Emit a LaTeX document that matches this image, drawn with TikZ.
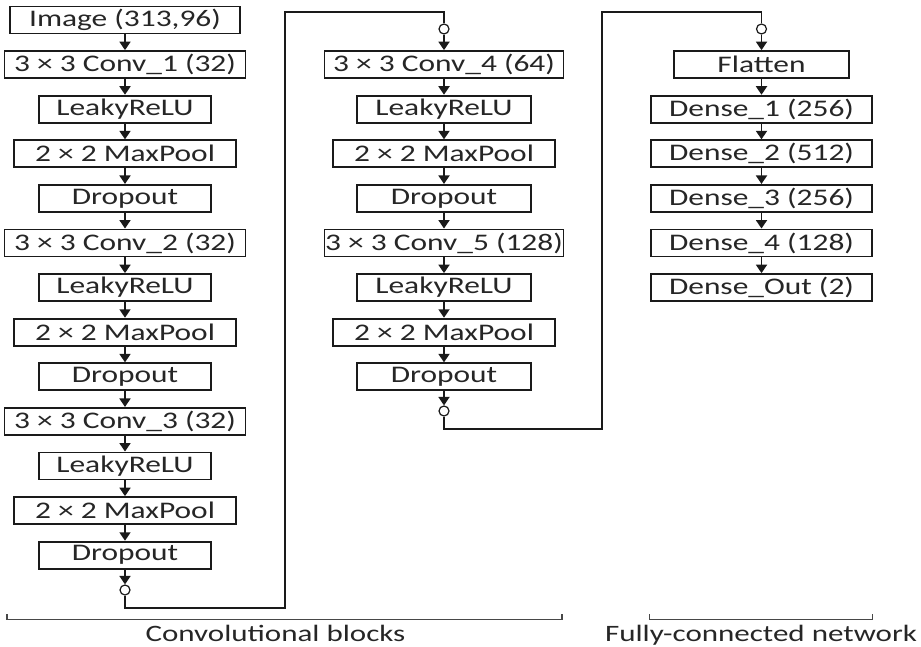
\documentclass[tikz,border=0pt]{standalone}
\usepackage{fontspec}
\usetikzlibrary{arrows.meta}
\newfontfamily\boxfont[FakeStretch=1.32]{Carlito}
\definecolor{linec}{HTML}{1A1A1A}
\definecolor{textc}{HTML}{262626}
\begin{document}
\begin{tikzpicture}[x=1pt,y=-1pt,
  blk/.style={draw=linec, line width=1.9pt, minimum height=27pt, inner sep=0pt, text=textc,
    font=\boxfont\fontsize{23.8pt}{25pt}\selectfont},
  circ/.style={circle, draw=linec, line width=1.2pt, minimum size=10pt, inner sep=0pt, fill=white},
  arr/.style={draw=linec, line width=1.8pt, -{Triangle[length=8.5pt,width=11pt]}},
  wire/.style={draw=linec, line width=1.8pt, line join=miter},
  brk/.style={draw=linec!80, line width=1.3pt},
  lbl/.style={text=textc, inner sep=0pt, anchor=base, font=\boxfont\fontsize{23.5pt}{25pt}\selectfont}]
\useasboundingbox (0,0) rectangle (921,647);
% column 1
\node[blk, minimum width=230pt] (img) at (125,20) {Image (313,96)};
\node[blk, minimum width=241pt] (c1) at (125,64.6) {3 × 3 Conv\_1 (32)};
\node[blk, minimum width=172pt] (r1) at (125,109.2) {LeakyReLU};
\node[blk, minimum width=222pt] (m1) at (125,153.8) {2 × 2 MaxPool};
\node[blk, minimum width=172pt] (d1) at (125,198.4) {Dropout};
\node[blk, minimum width=241pt] (c2) at (125,243) {3 × 3 Conv\_2 (32)};
\node[blk, minimum width=172pt] (r2) at (125,287.6) {LeakyReLU};
\node[blk, minimum width=222pt] (m2) at (125,332.2) {2 × 2 MaxPool};
\node[blk, minimum width=172pt] (d2) at (125,376.8) {Dropout};
\node[blk, minimum width=241pt] (c3) at (125,421.4) {3 × 3 Conv\_3 (32)};
\node[blk, minimum width=172pt] (r3) at (125,466) {LeakyReLU};
\node[blk, minimum width=222pt] (m3) at (125,510.6) {2 × 2 MaxPool};
\node[blk, minimum width=172pt] (d3) at (125,555.2) {Dropout};
\node[circ] (o1) at (125,590) {};
% column 2
\node[circ] (o2) at (444,29) {};
\node[blk, minimum width=239pt] (c4) at (444,64.6) {3 × 3 Conv\_4 (64)};
\node[blk, minimum width=174pt] (r4) at (444,109.2) {LeakyReLU};
\node[blk, minimum width=222pt] (m4) at (444,153.8) {2 × 2 MaxPool};
\node[blk, minimum width=174pt] (d4) at (444,198.4) {Dropout};
\node[blk, minimum width=239pt] (c5) at (444,243) {3 × 3 Conv\_5 (128)};
\node[blk, minimum width=174pt] (r5) at (444,287.6) {LeakyReLU};
\node[blk, minimum width=222pt] (m5) at (444,332.2) {2 × 2 MaxPool};
\node[blk, minimum width=174pt] (d5) at (444,376.8) {Dropout};
\node[circ] (o3) at (444,411) {};
% column 3
\node[circ] (o4) at (761.5,29) {};
\node[blk, minimum width=175pt] (fl) at (761.5,64.6) {Flatten};
\node[blk, minimum width=221pt] (e1) at (761.5,109.2) {Dense\_1 (256)};
\node[blk, minimum width=221pt] (e2) at (761.5,153.8) {Dense\_2 (512)};
\node[blk, minimum width=221pt] (e3) at (761.5,198.4) {Dense\_3 (256)};
\node[blk, minimum width=221pt] (e4) at (761.5,243) {Dense\_4 (128)};
\node[blk, minimum width=221pt] (eo) at (761.5,287.6) {Dense\_Out (2)};
% arrows
\foreach \a/\b in {img/c1,c1/r1,r1/m1,m1/d1,d1/c2,c2/r2,r2/m2,m2/d2,d2/c3,c3/r3,r3/m3,m3/d3,d3/o1,
  o2/c4,c4/r4,r4/m4,m4/d4,d4/c5,c5/r5,r5/m5,m5/d5,d5/o3,
  o4/fl,fl/e1,e1/e2,e2/e3,e3/e4,e4/eo}
  \draw[arr] (\a) -- (\b);
% wires between columns
\coordinate (a1) at (125,608);
\coordinate (a2) at (285,608);
\coordinate (a3) at (285,12);
\coordinate (a4) at (444,12);
\draw[wire] (o1) -- (a1) -- (a2) -- (a3) -- (a4) -- (o2);
\coordinate (b1) at (444,429);
\coordinate (b2) at (602,429);
\coordinate (b3) at (602,12);
\coordinate (b4) at (761.5,12);
\draw[wire] (o3) -- (b1) -- (b2) -- (b3) -- (b4) -- (o4);
% brackets
\coordinate (p1) at (7,614);
\coordinate (p2) at (7,619.5);
\coordinate (p3) at (562,619.5);
\coordinate (p4) at (562,614);
\draw[brk] (p1) -- (p2) -- (p3) -- (p4);
\coordinate (q1) at (649.5,614);
\coordinate (q2) at (649.5,619.5);
\coordinate (q3) at (872.5,619.5);
\coordinate (q4) at (872.5,614);
\draw[brk] (q1) -- (q2) -- (q3) -- (q4);
\node[lbl] (l1) at (275.5,641.5) {Convolutional blocks};
\node[lbl] (l2) at (761,641.5) {Fully-connected network};
\end{tikzpicture}
\end{document}
